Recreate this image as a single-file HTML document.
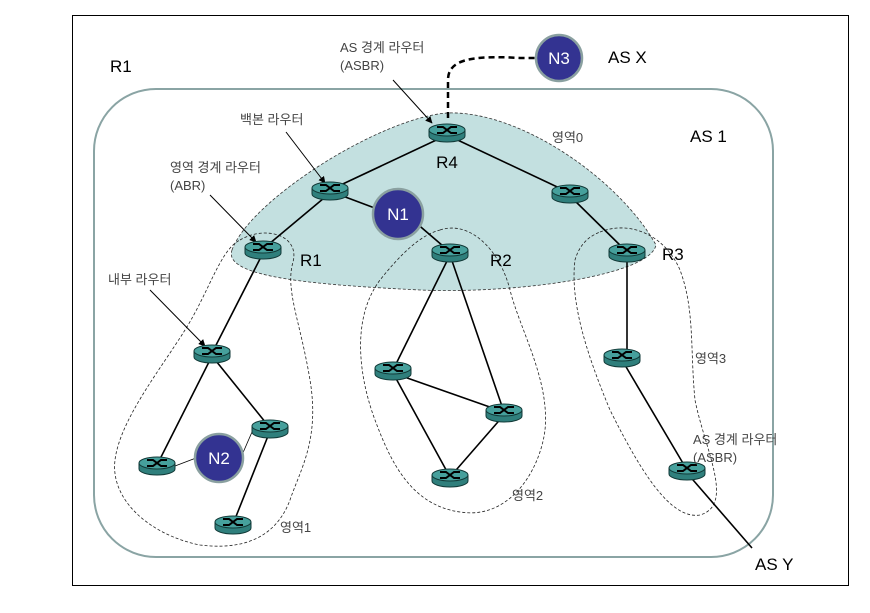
<!DOCTYPE html>
<html><head><meta charset="utf-8"><style>
body{margin:0;background:#fff}
text{font-family:"Liberation Sans","Noto Sans CJK KR",sans-serif}
</style></head><body>
<svg width="870" height="608" viewBox="0 0 870 608" xmlns="http://www.w3.org/2000/svg">
<defs>
<g id="rt">
<path d="M-18,0 L-18,6 A18,6 0 0 0 18,6 L18,0 Z" fill="#2f7f7c" stroke="#123a38" stroke-width="1"/>
<ellipse cx="0" cy="0" rx="18" ry="6" fill="#46a09c" stroke="#123a38" stroke-width="1"/>
<path d="M-10,-3 L-4,-3 L4,3 L10,3 M-10,3 L-4,3 L4,-3 L10,-3" stroke="#000" stroke-width="2" fill="none"/>
</g>
<marker id="ah" viewBox="0 0 10 10" refX="9" refY="5" markerWidth="7" markerHeight="7" orient="auto"><path d="M0,0 L10,5 L0,10 Z" fill="#000"/></marker>
</defs>
<rect x="72.5" y="15.5" width="776" height="570" fill="none" stroke="#000" stroke-width="1"/>
<rect x="94" y="89" width="679" height="468" rx="62" fill="none" stroke="#8aa4a4" stroke-width="2"/>
<path d="M232,250 C250,200 380,118 447,113 C520,110 620,180 656,245 C650,275 520,294 420,290 C320,285 222,278 232,250 Z" fill="#c3e0e0" stroke="#333" stroke-width="0.8" stroke-dasharray="3,2"/>
<g fill="none" stroke="#222" stroke-width="0.8" stroke-dasharray="3,2">
<path d="M240,240 C265,225 300,235 293,262 C285,290 300,320 310,380 C320,440 300,470 290,500 C275,540 240,550 200,545 C150,535 110,500 115,460 C120,420 160,370 185,330 C210,290 220,250 240,240 Z"/>
<path d="M440,230 C470,220 500,250 510,290 C520,330 550,380 545,430 C540,470 510,520 460,512 C410,505 390,460 375,420 C360,380 350,320 380,280 C400,255 420,235 440,230 Z"/>
<path d="M600,232 C630,220 665,235 680,270 C695,310 690,350 695,400 C705,450 735,505 700,515 C670,520 640,470 610,410 C585,350 570,300 575,260 C580,243 590,236 600,232 Z"/>
</g>
<path d="M448,118 L448,80 C448,60 470,55 520,58 L535,58" fill="none" stroke="#000" stroke-width="2.5" stroke-dasharray="6,4"/>
<g stroke="#000" stroke-width="1.6">
<line x1="447" y1="135" x2="330" y2="190"/><line x1="447" y1="135" x2="570" y2="193"/>
<line x1="330" y1="193" x2="263" y2="249"/><line x1="340" y1="195" x2="380" y2="210"/>
<line x1="415" y1="222" x2="450" y2="252"/><line x1="570" y1="196" x2="627" y2="252"/>
<line x1="263" y1="253" x2="212" y2="353"/><line x1="212" y1="356" x2="157" y2="465"/>
<line x1="212" y1="356" x2="270" y2="428"/><line x1="270" y1="431" x2="233" y2="524"/>
<line x1="450" y1="255" x2="393" y2="370"/><line x1="450" y1="255" x2="504" y2="412"/>
<line x1="393" y1="373" x2="504" y2="412"/><line x1="393" y1="373" x2="450" y2="477"/>
<line x1="504" y1="415" x2="450" y2="477"/><line x1="627" y1="255" x2="627" y2="357"/>
<line x1="622" y1="360" x2="687" y2="470"/><line x1="687" y1="473" x2="752" y2="548"/>
<line x1="175" y1="466" x2="196" y2="458" stroke-width="0.8"/><line x1="242" y1="455" x2="252" y2="432" stroke-width="0.8"/>
</g>
<g stroke="#000" stroke-width="1" fill="none" marker-end="url(#ah)">
<line x1="393" y1="80" x2="432" y2="123"/><line x1="286" y1="132" x2="325" y2="183"/>
<line x1="210" y1="195" x2="256" y2="242"/><line x1="150" y1="290" x2="205" y2="346"/>
</g>
<use href="#rt" x="447" y="130"/><use href="#rt" x="330" y="188"/><use href="#rt" x="263" y="247"/>
<use href="#rt" x="450" y="250"/><use href="#rt" x="570" y="191"/><use href="#rt" x="627" y="250"/>
<use href="#rt" x="212" y="351"/><use href="#rt" x="270" y="426"/><use href="#rt" x="157" y="463"/>
<use href="#rt" x="233" y="522"/><use href="#rt" x="393" y="368"/><use href="#rt" x="504" y="410"/>
<use href="#rt" x="450" y="475"/><use href="#rt" x="622" y="355"/><use href="#rt" x="687" y="468"/>
<g fill="#333391" stroke="#8aa0a0" stroke-width="2.5">
<circle cx="398" cy="214" r="25"/><circle cx="219" cy="458" r="24"/><circle cx="559" cy="58" r="23"/>
</g>
<g fill="#fff" font-size="17" text-anchor="middle">
<text x="398" y="220">N1</text><text x="219" y="464">N2</text><text x="559" y="64">N3</text>
</g>
<g font-size="17" fill="#000">
<text x="110" y="72">R1</text><text x="608" y="63">AS X</text><text x="690" y="142">AS 1</text>
<text x="447" y="168" text-anchor="middle">R4</text><text x="300" y="266">R1</text>
<text x="490" y="266">R2</text><text x="662" y="260">R3</text><text x="755" y="570">AS Y</text>
</g>
<g font-size="13" fill="#444">
<text x="340" y="52">AS 경계 라우터</text><text x="340" y="70">(ASBR)</text>
<text x="240" y="124">백본 라우터</text>
<text x="170" y="172">영역 경계 라우터</text><text x="170" y="190">(ABR)</text>
<text x="108" y="284">내부 라우터</text>
<text x="552" y="142">영역0</text><text x="695" y="363">영역3</text>
<text x="693" y="444">AS 경계 라우터</text><text x="693" y="462">(ASBR)</text>
<text x="512" y="500">영역2</text><text x="280" y="532">영역1</text>
</g>
</svg>
</body></html>
